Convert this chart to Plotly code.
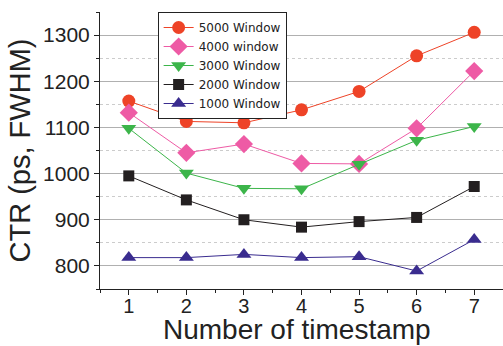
import plotly.graph_objects as go

timestamps = [1, 2, 3, 4, 5, 6, 7]

ctr_5000 = [1157, 1113, 1110, 1138, 1178, 1255, 1306]
ctr_4000 = [1132, 1045, 1064, 1022, 1021, 1098, 1222]
ctr_3000 = [1098, 1001, 968, 967, 1020, 1072, 1102]
ctr_2000 = [995, 943, 900, 884, 896, 905, 972]
ctr_1000 = [818, 818, 825, 818, 820, 789, 857]

series = [
    ("5000 Window", ctr_5000, "#EE4327", "circle", 13),
    ("4000 window", ctr_4000, "#EE5BA5", "diamond", 14),
    ("3000 Window", ctr_3000, "#3CB54A", "triangle-down", 13),
    ("2000 Window", ctr_2000, "#231F20", "square", 11),
    ("1000 Window", ctr_1000, "#3A2C8F", "triangle-up", 13),
]

fig = go.Figure()
for name, vals, color, symbol, size in series:
    fig.add_trace(go.Scatter(
        x=timestamps, y=vals, name=name, mode="lines+markers",
        line=dict(color=color, width=1),
        marker=dict(symbol=symbol, size=size, color=color, line=dict(width=0)),
    ))

font_family = "Liberation Sans, Arial, sans-serif"

fig.update_layout(
    width=503, height=346,
    margin=dict(l=100, r=0, t=12, b=57),
    paper_bgcolor="white", plot_bgcolor="white",
    font=dict(family=font_family, color="#222222"),
    showlegend=True,
    legend=dict(
        x=0.143, y=1.0, xanchor="left", yanchor="top",
        bgcolor="white", bordercolor="#222222", borderwidth=1,
        font=dict(size=12, family="DejaVu Sans, sans-serif", color="#222222"),
        itemwidth=30, tracegroupgap=0,
    ),
    xaxis=dict(
        range=[0.5, 7.5], tickmode="linear", tick0=1, dtick=1,
        automargin=False,
        showgrid=False, zeroline=False,
        showline=True, linecolor="#222222", linewidth=1,
        ticks="outside", ticklen=5, tickcolor="#222222",
        ticklabelstandoff=-6,
        tickfont=dict(size=20, family=font_family, color="#222222"),
        minor=dict(dtick=0.5, tick0=0.5, ticks="outside", ticklen=3, tickcolor="#222222", showgrid=False),
    ),
    yaxis=dict(
        range=[750, 1350], tickmode="linear", tick0=800, dtick=100,
        automargin=False,
        showgrid=True, gridcolor="#B0B0B0", gridwidth=1, zeroline=False,
        showline=True, linecolor="#222222", linewidth=1,
        ticks="outside", ticklen=5, tickcolor="#222222",
        tickfont=dict(size=21, family=font_family, color="#222222"),
        minor=dict(dtick=50, tick0=750, ticks="outside", ticklen=3, tickcolor="#222222",
                   showgrid=True, gridcolor="#CCCCCC", griddash="dot", gridwidth=1),
        title=dict(text="CTR (ps, FWHM)", font=dict(size=29, family=font_family, color="#222222"), standoff=3),
    ),
    annotations=[dict(
        text="Number of timestamp", xref="paper", yref="paper",
        x=0.49, y=-0.148, xanchor="center", yanchor="middle", showarrow=False,
        font=dict(size=28, family=font_family, color="#222222"),
    )],
)

fig.write_html("out.html")
